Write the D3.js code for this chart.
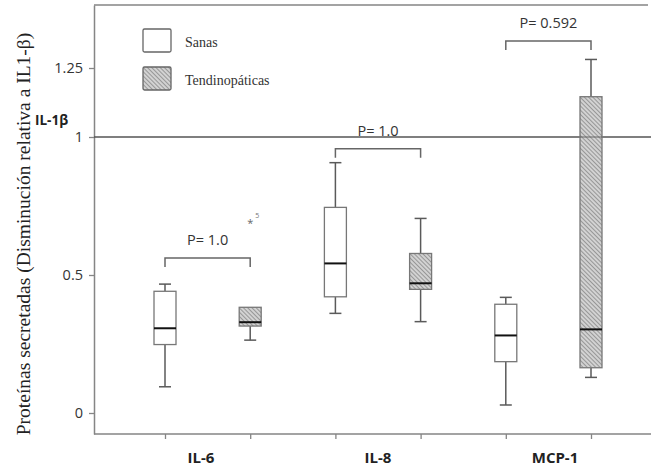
<!DOCTYPE html>
<html><head><meta charset="utf-8">
<script src="https://cdn.jsdelivr.net/npm/d3@7"></script>
<style>body{margin:0;background:#fff}svg{display:block}</style>
</head><body>
<svg id="c" width="651" height="468"></svg>
<script>
const categories = ["IL-6", "IL-8", "MCP-1"];
const groups = ["Sanas", "Tendinopáticas"];
// Sanas
const sanasLow = [0.095, 0.361, 0.029];
const sanasQ1 = [0.248, 0.421, 0.186];
const sanasMedian = [0.307, 0.542, 0.281];
const sanasQ3 = [0.441, 0.745, 0.394];
const sanasHigh = [0.467, 0.907, 0.419];
// Tendinopáticas
const tendLow = [0.264, 0.331, 0.129];
const tendQ1 = [0.315, 0.448, 0.164];
const tendMedian = [0.329, 0.470, 0.303];
const tendQ3 = [0.383, 0.578, 1.146];
const tendHigh = [0.383, 0.705, 1.281];
// outliers
const outlierCat = ["IL-6"];
const outlierGroup = ["Tendinopáticas"];
const outlierValue = [0.692];
const outlierLabel = ["5"];
// p-values and bracket levels
const pLabels = ["P= 1.0", "P= 1.0", "P= 0.592"];
const bracketLevel = [0.562, 0.957, 1.348];
const yTicks = [0, 0.5, 1, 1.25];
const yTickLabels = ["0", "0.5", "1", "1.25"];
const refValue = 1;
const refLabel = "IL-1β";
const yTitle = "Proteínas secretadas (Disminución relativa a IL1-β)";

const svg = d3.select("#c");
const defs = svg.append("defs");
const hs = 3;
const pat = defs.append("pattern").attr("id", "hatch").attr("patternUnits", "userSpaceOnUse")
  .attr("width", hs).attr("height", hs).attr("patternTransform", "rotate(45)");
pat.append("rect").attr("width", hs).attr("height", hs).attr("fill", "#d2d2d2");
pat.append("line").attr("x1", 0).attr("y1", 0).attr("x2", hs).attr("y2", 0)
  .attr("stroke", "#707070").attr("stroke-width", 1.2);

const L = 94, R = 648, T = 5, B = 434;
const y = d3.scaleLinear().domain([-0.0761, 1.4783]).range([B, T]);
const keys = [];
categories.forEach(c => groups.forEach(g => keys.push(c + "|" + g)));
const x = d3.scalePoint().domain(keys).range([165, 591]);
const xLab = d3.scalePoint().domain(categories).range([201, 555]);

const font = "'Open Sans', sans-serif";
const gray = "#858585";

// frame
svg.append("line").attr("x1", L).attr("x2", R).attr("y1", T).attr("y2", T).attr("stroke", gray).attr("stroke-width", 1.5);

// y axis
const ya = svg.append("g").attr("transform", `translate(${L},0)`)
  .call(d3.axisLeft(y).tickValues(yTicks).tickFormat((d, i) => yTickLabels[i]).tickSize(5).tickSizeOuter(0).tickPadding(6));
ya.select(".domain").attr("stroke", gray).attr("stroke-width", 1.5);
ya.selectAll(".tick line").attr("stroke", gray).attr("stroke-width", 1.3);
ya.selectAll(".tick text").attr("font-family", font).attr("font-size", 14.5).attr("fill", "#333");

// x axis
const xa = svg.append("g").attr("transform", `translate(0,${B})`)
  .call(d3.axisBottom(x).tickFormat("").tickSize(5).tickSizeOuter(0));
xa.select(".domain").remove();
xa.selectAll(".tick line").attr("stroke", gray).attr("stroke-width", 1.3);
svg.append("line").attr("x1", L).attr("x2", 651).attr("y1", B).attr("y2", B).attr("stroke", gray).attr("stroke-width", 1.5);
svg.append("g").selectAll("text").data(categories).join("text")
  .attr("x", d => xLab(d)).attr("y", 463).attr("text-anchor", "middle")
  .attr("font-family", font).attr("font-weight", "bold").attr("font-size", 15).attr("fill", "#222").text(d => d);

// y title
svg.append("text").attr("transform", `translate(30,234) rotate(-90)`).attr("text-anchor", "middle")
  .attr("font-family", "'Liberation Serif', 'Times New Roman', serif").attr("font-size", 19.5).attr("fill", "#222").text(yTitle);

// reference line
svg.append("line").attr("x1", L).attr("x2", 651).attr("y1", y(refValue)).attr("y2", y(refValue))
  .attr("stroke", "#555").attr("stroke-width", 1.5);
svg.append("text").attr("x", 35).attr("y", 125).attr("font-family", font).attr("font-weight", "bold")
  .attr("font-size", 13.5).attr("fill", "#222").text(refLabel);

// boxes
const boxW = 22, capW = 12;
const boxes = [];
categories.forEach((c, i) => {
  boxes.push({key: c + "|Sanas", low: sanasLow[i], q1: sanasQ1[i], med: sanasMedian[i], q3: sanasQ3[i], high: sanasHigh[i], fill: "#fff"});
  boxes.push({key: c + "|Tendinopáticas", low: tendLow[i], q1: tendQ1[i], med: tendMedian[i], q3: tendQ3[i], high: tendHigh[i], fill: "url(#hatch)"});
});
const bg = svg.append("g").selectAll("g").data(boxes).join("g");
const wc = "#5a5a5a";
bg.append("line").attr("x1", d => x(d.key)).attr("x2", d => x(d.key)).attr("y1", d => y(d.high)).attr("y2", d => y(d.q3)).attr("stroke", wc).attr("stroke-width", 1.5);
bg.append("line").attr("x1", d => x(d.key)).attr("x2", d => x(d.key)).attr("y1", d => y(d.q1)).attr("y2", d => y(d.low)).attr("stroke", wc).attr("stroke-width", 1.5);
bg.filter(d => d.high > d.q3).append("line").attr("x1", d => x(d.key) - capW / 2).attr("x2", d => x(d.key) + capW / 2).attr("y1", d => y(d.high)).attr("y2", d => y(d.high)).attr("stroke", wc).attr("stroke-width", 1.5);
bg.filter(d => d.low < d.q1).append("line").attr("x1", d => x(d.key) - capW / 2).attr("x2", d => x(d.key) + capW / 2).attr("y1", d => y(d.low)).attr("y2", d => y(d.low)).attr("stroke", wc).attr("stroke-width", 1.5);
bg.append("rect").attr("x", d => x(d.key) - boxW / 2).attr("width", boxW)
  .attr("y", d => y(d.q3)).attr("height", d => y(d.q1) - y(d.q3))
  .attr("fill", d => d.fill).attr("stroke", "#777").attr("stroke-width", 1.3);
bg.append("line").attr("x1", d => x(d.key) - boxW / 2).attr("x2", d => x(d.key) + boxW / 2).attr("y1", d => y(d.med)).attr("y2", d => y(d.med)).attr("stroke", "#111").attr("stroke-width", 2);

// reference line visible through MCP-1 hatched box
svg.append("line").attr("x1", x("MCP-1|Tendinopáticas") - boxW / 2).attr("x2", x("MCP-1|Tendinopáticas") + boxW / 2)
  .attr("y1", y(refValue)).attr("y2", y(refValue)).attr("stroke", "#555").attr("stroke-width", 1.2).attr("opacity", 0.7);

// outliers
outlierValue.forEach((v, i) => {
  const cx = x(outlierCat[i] + "|" + outlierGroup[i]);
  svg.append("text").attr("x", cx).attr("y", y(v) + 5).attr("text-anchor", "middle").attr("font-family", font).attr("font-size", 11).attr("fill", "#666").text("*");
  svg.append("text").attr("x", cx + 5).attr("y", y(v) - 4).attr("font-family", font).attr("font-size", 7).attr("fill", "#777").text(outlierLabel[i]);
});

// brackets
categories.forEach((c, i) => {
  const x1 = x(c + "|Sanas"), x2 = x(c + "|Tendinopáticas"), yy = y(bracketLevel[i]);
  svg.append("path").attr("d", `M${x1},${yy + 9}V${yy}H${x2}V${yy + 9}`).attr("fill", "none").attr("stroke", "#666").attr("stroke-width", 1.5);
  svg.append("text").attr("x", (x1 + x2) / 2).attr("y", yy - 13).attr("text-anchor", "middle")
    .attr("font-family", font).attr("font-size", 14.5).attr("fill", "#333").text(pLabels[i]);
});

// legend
const lg = svg.append("g");
groups.forEach((g, i) => {
  lg.append("rect").attr("x", 143).attr("y", 29 + i * 38).attr("width", 28).attr("height", 23)
    .attr("fill", i === 0 ? "#fff" : "url(#hatch)").attr("stroke", "#666").attr("stroke-width", 1.3).attr("rx", 1.5);
  lg.append("text").attr("x", 185).attr("y", 47 + i * 38).attr("font-family", "'Liberation Serif', 'Times New Roman', serif")
    .attr("font-size", 14).attr("fill", "#333").text(g);
});
</script>
</body></html>
